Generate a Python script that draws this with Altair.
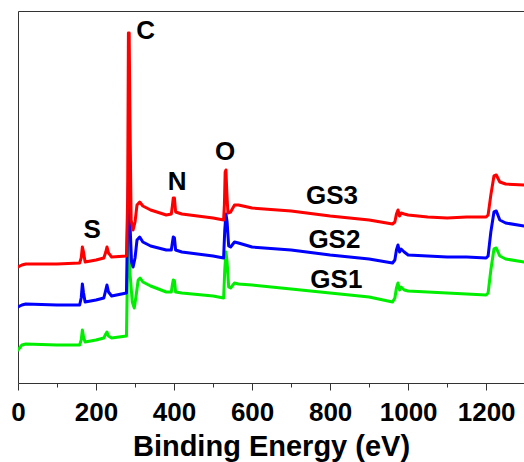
import altair as alt
import pandas as pd

# ---- data (binding energy in eV, intensity in a.u.) ----
gs3_energy = [0, 10, 20, 100, 158, 162, 165, 168, 172, 200, 220, 225, 228, 232, 240, 278,
              281, 283, 285, 287, 290, 295, 300, 305, 312, 320, 340, 380, 393, 396, 398, 401,
              404, 420, 500, 527, 529, 531, 533, 535, 538, 545, 555, 565, 600, 700, 800, 900,
              960, 966, 970, 974, 978, 982, 990, 1000, 1050, 1100, 1150, 1200, 1205, 1212,
              1220, 1226, 1235, 1250, 1297]
gs3_intensity = [116, 118, 119, 119, 120, 125, 136, 131, 121, 123, 125, 131, 136, 130, 126, 127,
                 183, 350, 350, 263, 163, 153, 161, 178, 181, 177, 173, 168, 169, 178, 185, 185,
                 171, 169, 165, 163, 178, 211, 213, 193, 170, 171, 178, 178, 175, 172, 167, 163,
                 159, 161, 169, 173, 167, 170, 169, 168, 166, 165, 166, 166, 168, 188,
                 207, 208, 201, 199, 198]

gs2_energy = [0, 10, 20, 100, 158, 162, 165, 168, 172, 200, 220, 225, 228, 232, 240, 278,
              281, 283, 285, 287, 291, 295, 300, 305, 312, 320, 340, 380, 393, 396, 398, 401,
              404, 420, 500, 527, 530, 533, 536, 540, 545, 555, 565, 600, 700, 800, 900,
              960, 966, 970, 974, 978, 982, 990, 1000, 1050, 1100, 1150, 1200, 1205, 1212,
              1220, 1226, 1235, 1250, 1297]
gs2_intensity = [76, 78, 79, 78, 78, 85, 99, 90, 81, 83, 85, 93, 98, 91, 87, 90,
                 163, 200, 200, 160, 121, 116, 125, 143, 146, 141, 137, 133, 133, 141, 146, 145,
                 133, 131, 127, 125, 153, 169, 161, 137, 136, 141, 140, 136, 133, 128, 124,
                 120, 123, 133, 138, 131, 134, 131, 128, 127, 126, 126, 125, 127, 151,
                 171, 172, 163, 160, 157]

gs1_energy = [0, 10, 20, 100, 158, 162, 165, 168, 172, 200, 220, 225, 228, 232, 240, 278,
              281, 283, 285, 287, 293, 298, 303, 308, 313, 320, 340, 380, 393, 396, 398, 401,
              404, 420, 500, 527, 530, 533, 536, 540, 545, 555, 565, 600, 700, 800, 900,
              960, 966, 970, 974, 978, 982, 990, 1000, 1050, 1100, 1150, 1200, 1205, 1212,
              1220, 1226, 1235, 1250, 1297]
gs1_intensity = [33, 38, 39, 38, 38, 43, 53, 46, 41, 43, 45, 49, 51, 47, 45, 47,
                 123, 160, 160, 110, 81, 75, 88, 103, 105, 101, 97, 91, 91, 99, 103, 102,
                 91, 90, 87, 85, 113, 131, 121, 96, 95, 100, 99, 98, 94, 90, 86,
                 81, 85, 95, 100, 93, 96, 93, 92, 91, 90, 89, 88, 90, 113,
                 134, 135, 127, 124, 121]

label_text = ["C", "S", "N", "O", "GS3", "GS2", "GS1"]
label_energy = [327, 190, 408, 531, 805, 811, 816]
label_intensity = [352, 153, 201, 231, 187, 143, 103]

major_ticks = [0, 200, 400, 600, 800, 1000, 1200]
minor_ticks = [100, 300, 500, 700, 900, 1100, 1300]

FONT = "Liberation Sans"
X_DOMAIN = [0, 1297]
Y_DOMAIN = [0, 372]

xs = alt.Scale(domain=X_DOMAIN, nice=False, zero=False)
ys = alt.Scale(domain=Y_DOMAIN, nice=False, zero=False)

def series(energy, intensity):
    return pd.DataFrame({"energy": energy, "intensity": intensity})

line_style = dict(strokeWidth=3, clip=True, strokeJoin="round", strokeCap="round")

green = alt.Chart(series(gs1_energy, gs1_intensity)).mark_line(
    color="#00EE00", **line_style
).encode(
    x=alt.X("energy:Q", scale=xs, axis=alt.Axis(
        orient="bottom", values=major_ticks, format="d", title="Binding Energy (eV)",
        labelFont=FONT, labelFontSize=26, labelFontWeight="bold", labelColor="black",
        labelPadding=9, labelFlush=False, tickSize=7, tickColor="#333", tickWidth=1,
        domainColor="#333", domainWidth=1, grid=False,
        titleFont=FONT, titleFontSize=29, titleFontWeight="bold", titleColor="black",
        titleBaseline="alphabetic", titleY=72)),
    y=alt.Y("intensity:Q", scale=ys, axis=alt.Axis(
        orient="left", labels=False, ticks=False, title=None, grid=False,
        domainColor="#333", domainWidth=1)),
)

blue = alt.Chart(series(gs2_energy, gs2_intensity)).mark_line(
    color="#0000FF", **line_style
).encode(
    x=alt.X("energy:Q", scale=xs, axis=alt.Axis(
        orient="bottom", values=minor_ticks, labels=False, title=None, domain=False,
        tickSize=4, tickColor="#333", tickWidth=1, grid=False)),
    y=alt.Y("intensity:Q", scale=ys, axis=None),
)

red = alt.Chart(series(gs3_energy, gs3_intensity)).mark_line(
    color="#FF0000", **line_style
).encode(
    x=alt.X("energy:Q", scale=xs, axis=alt.Axis(
        orient="top", labels=False, ticks=False, title=None, grid=False,
        domainColor="#333", domainWidth=1)),
    y=alt.Y("intensity:Q", scale=ys, axis=None),
)

labels = alt.Chart(pd.DataFrame({
    "text": label_text, "energy": label_energy, "intensity": label_intensity
})).mark_text(
    font=FONT, fontSize=26, fontWeight="bold", color="black",
    align="center", baseline="middle"
).encode(
    x=alt.X("energy:Q", scale=xs, axis=None),
    y=alt.Y("intensity:Q", scale=ys, axis=None),
    text="text:N",
)

chart = alt.layer(green, blue, red, labels).resolve_axis(
    x="independent", y="independent"
).properties(
    width=506, height=372,
    padding={"left": 18, "top": 11, "right": 0, "bottom": 79},
    autosize=alt.AutoSizeParams(type="none"),
    background="white",
).configure_view(stroke=None)

chart.save("out.html", embed_options={"renderer": "svg", "actions": False})
